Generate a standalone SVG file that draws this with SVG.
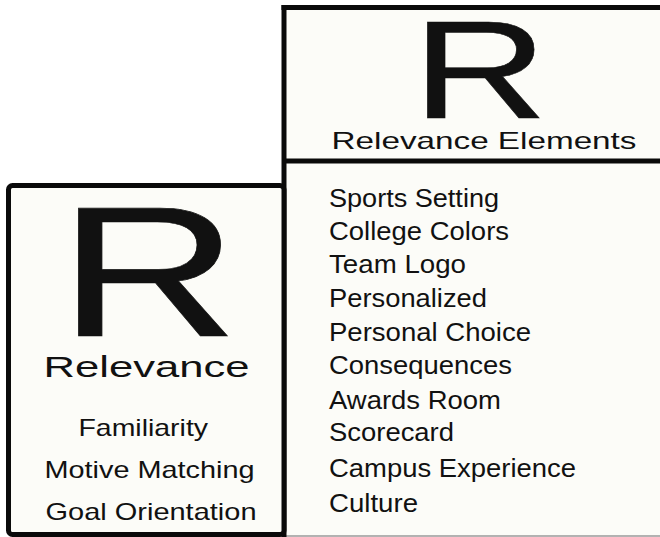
<svg xmlns="http://www.w3.org/2000/svg" width="660" height="537" viewBox="0 0 660 537">
<style>
  .t{font-family:"Liberation Sans",Arial,sans-serif;fill:#111;}
  .big{font-size:140px;stroke:#111;stroke-width:0.5;}
  .hd{font-size:24px;}
  .it{font-size:25px;}
  .sm{font-size:24px;}
  .ln{stroke:#0a0a0a;stroke-width:5;fill:none;}
  .box{fill:#fcfcf8;}
</style>
<rect width="660" height="537" fill="#ffffff"/>
<g id="relevance-elements">
  <rect class="box" x="284" y="8" width="380" height="528"/>
  <line x1="260" y1="536" x2="660" y2="536" stroke="#9a9a9a" stroke-width="1.5"/>
  <line class="ln" x1="281.5" y1="7.5" x2="660" y2="7.5"/>
  <line class="ln" x1="284" y1="5" x2="284" y2="537"/>
  <line class="ln" x1="284" y1="161" x2="660" y2="161"/>
  <text class="t big" x="412" y="118" textLength="136" lengthAdjust="spacingAndGlyphs">R</text>
  <text class="t hd" x="331.5" y="149" textLength="305" lengthAdjust="spacingAndGlyphs">Relevance Elements</text>
  <text class="t it" x="329" y="206.7" textLength="170" lengthAdjust="spacingAndGlyphs">Sports Setting</text>
  <text class="t it" x="329" y="240" textLength="180" lengthAdjust="spacingAndGlyphs">College Colors</text>
  <text class="t it" x="329" y="272.5" textLength="137" lengthAdjust="spacingAndGlyphs">Team Logo</text>
  <text class="t it" x="329" y="306.7" textLength="158" lengthAdjust="spacingAndGlyphs">Personalized</text>
  <text class="t it" x="329" y="340.7" textLength="202" lengthAdjust="spacingAndGlyphs">Personal Choice</text>
  <text class="t it" x="329" y="374" textLength="183" lengthAdjust="spacingAndGlyphs">Consequences</text>
  <text class="t it" x="329" y="409.3" textLength="172" lengthAdjust="spacingAndGlyphs">Awards Room</text>
  <text class="t it" x="329" y="440.7" textLength="125" lengthAdjust="spacingAndGlyphs">Scorecard</text>
  <text class="t it" x="329" y="476.7" textLength="247" lengthAdjust="spacingAndGlyphs">Campus Experience</text>
  <text class="t it" x="329" y="511.7" textLength="89" lengthAdjust="spacingAndGlyphs">Culture</text>
</g>
<g id="relevance">
  <rect class="box ln" x="8.5" y="185.5" width="275.5" height="349" rx="4"/>
  <text class="t" style="font-size:186px;stroke:#111;stroke-width:0.6" x="58" y="336" textLength="181" lengthAdjust="spacingAndGlyphs">R</text>
  <text class="t" style="font-size:29px" x="43.5" y="377" textLength="206" lengthAdjust="spacingAndGlyphs">Relevance</text>
  <text class="t sm" x="78.5" y="435.5" textLength="129.5" lengthAdjust="spacingAndGlyphs">Familiarity</text>
  <text class="t sm" x="44.5" y="478.3" textLength="210" lengthAdjust="spacingAndGlyphs">Motive Matching</text>
  <text class="t sm" x="45.5" y="520" textLength="211" lengthAdjust="spacingAndGlyphs">Goal Orientation</text>
</g>
<g id="connectors"/>
</svg>
